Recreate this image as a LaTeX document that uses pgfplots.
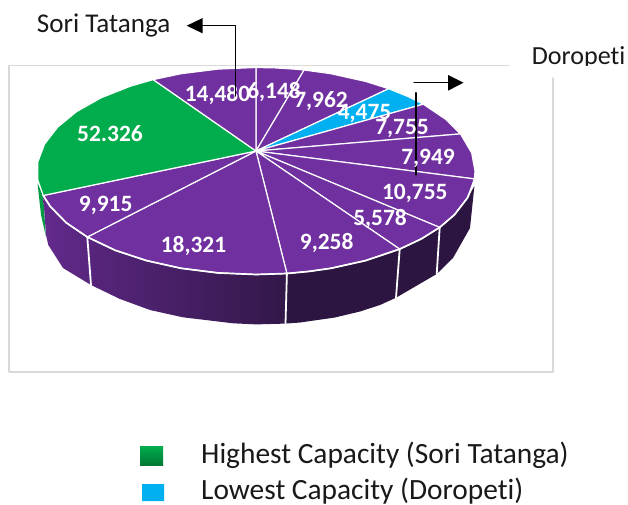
\documentclass[border=0pt]{standalone}
\usepackage{fontspec}
\setmainfont{Carlito}[Ligatures=NoCommon]
\usepackage{pgfplots}
\pgfplotsset{compat=1.18}
\definecolor{pur}{HTML}{7030A0}
\definecolor{grn}{HTML}{00AC4C}
\definecolor{blu}{HTML}{00B0F0}
\definecolor{dark}{HTML}{2D1541}
\definecolor{frame}{HTML}{D9D9D9}
\newcommand{\val}[3]{\node[anchor=base,text=white,font=\fontsize{23.5}{26}\selectfont\bfseries,inner sep=0pt] at (axis cs:#1,#2) {#3};}
\begin{document}
\begin{tikzpicture}
\path[use as bounding box] (0,0) rectangle (628bp,505bp);
\begin{axis}[at={(0,0)},anchor=south west,scale only axis,width=628bp,height=505bp,
  xmin=0,xmax=628,ymin=0,ymax=505,y dir=reverse,hide axis,clip=false,
  every axis plot/.append style={no marks,line join=round,line cap=round}]
% frame
\addplot[frame,line width=1.5pt] coordinates {(509,65.5)(9,65.5)(9,372)(553,372)(553,78)};
% side faces
\addplot[fill=grn!90!black,draw=none] coordinates {(37.5,183)(43.2,195.5)(45.8,236)(41,215)(37.5,183)};
\addplot[left color=pur!88!black,right color=pur!78!black,draw=none] coordinates {(43.2,195.5)(50.2,206.4)(66.3,222.8)(87.3,237)(91,285)(63,268)(48.3,245)(46,235)(43.2,195.5)};
\addplot[left color=pur!78!black,right color=dark!92!pur,draw=none] coordinates {(87.3,237)(115.2,250.3)(146.5,260.6)(181.1,268.3)(218,272.9)(256,274.5)(286.9,273.5)(285.5,323.6)(256,324.4)(233,323.3)(183,317.3)(150,310)(120,299)(91,285)(87.3,237)};
\addplot[fill=dark,draw=none] coordinates {(286.9,273.5)(309,271.4)(330.9,268.3)(365.5,260.6)(399.7,249.1)(396,297.7)(380,305)(360,311.5)(335,317.5)(300,322.5)(285.5,323.6)(286.9,273.5)};
\addplot[fill=dark,draw=none] coordinates {(399.7,249.1)(421.3,238.9)(439.7,227.4)(436.7,274)(396,297.7)(399.7,249.1)};
\addplot[fill=dark,draw=none] coordinates {(439.7,227.4)(454.5,214.7)(467.5,197.8)(474.4,186)(470,228)(453,258)(436.7,274)(439.7,227.4)};
% separators on the side
\addplot[white,line width=1.8pt] coordinates {(87.3,237)(91,285)};
\addplot[white,line width=1.8pt] coordinates {(286.9,273.5)(285.5,323.6)};
\addplot[white,line width=1.8pt] coordinates {(399.7,249.1)(396,297.7)};
\addplot[white,line width=1.8pt] coordinates {(439.7,227.4)(436.7,274)};
% top slices (centre, then rim)
\addplot[fill=pur,draw=white,line width=1.2pt] coordinates {(256,151)(256,67.5)(275.1,67.9)(294,69.1)(304.1,70)(256,151)};
\addplot[fill=pur,draw=white,line width=1.2pt] coordinates {(256,151)(304.1,70)(330.9,73.7)(365.5,81.4)(388.7,88.7)(256,151)};
\addplot[fill=blu,draw=white,line width=1.2pt] coordinates {(256,151)(388.7,88.7)(408.1,96.6)(423.3,104.2)(256,151)};
\addplot[fill=pur,draw=white,line width=1.2pt] coordinates {(256,151)(423.3,104.2)(445.7,119.3)(460.5,133.9)(256,151)};
\addplot[fill=pur,draw=white,line width=1.2pt] coordinates {(256,151)(460.5,133.9)(471.7,153)(475,171)(474.4,178.9)(256,151)};
\addplot[fill=pur,draw=white,line width=1.2pt] coordinates {(256,151)(474.4,178.9)(467.5,197.8)(454.5,214.7)(439.7,227.4)(256,151)};
\addplot[fill=pur,draw=white,line width=1.2pt] coordinates {(256,151)(439.7,227.4)(421.3,238.9)(399.7,249.1)(256,151)};
\addplot[fill=pur,draw=white,line width=1.2pt] coordinates {(256,151)(399.7,249.1)(365.5,260.6)(330.9,268.3)(309,271.4)(286.9,273.5)(256,151)};
\addplot[fill=pur,draw=white,line width=1.2pt] coordinates {(256,151)(286.9,273.5)(256,274.5)(218,272.9)(181.1,268.3)(146.5,260.6)(115.2,250.3)(87.3,237)(256,151)};
\addplot[fill=pur,draw=white,line width=1.2pt] coordinates {(256,151)(87.3,237)(66.3,222.8)(50.2,206.4)(43.2,195.5)(256,151)};
\addplot[fill=grn,draw=white,line width=1.2pt] coordinates {(256,151)(43.2,195.5)(37.8,180)(37.8,162)(44.5,144.2)(57.5,127.3)(76.6,111.6)(101.1,97.8)(130.4,86.2)(153.2,79.6)(256,151)};
\addplot[fill=pur,draw=white,line width=1.2pt] coordinates {(256,151)(153.2,79.6)(181.1,73.7)(218,69.1)(256,67.5)(256,151)};
% white front rim
\addplot[white,line width=1.7pt] coordinates {(43.2,195.5)(50.2,206.4)(66.3,222.8)(87.3,237)(115.2,250.3)(146.5,260.6)(181.1,268.3)(218,272.9)(256,274.5)(286.9,273.5)(309,271.4)(330.9,268.3)(365.5,260.6)(399.7,249.1)(421.3,238.9)(439.7,227.4)(454.5,214.7)(467.5,197.8)(474.4,182)};
% leader to Doropeti (under the values)
\addplot[black,line width=1.2pt] coordinates {(416,92.7)(416,175)};
% values
\val{217.5}{101.7}{14,480}
\val{274}{98.5}{6,148}
\val{321}{107}{7,962}
\val{364.5}{119}{4,475}
\val{402}{134}{7,755}
\val{428}{164}{7,949}
\val{414.8}{199.3}{10,755}
\val{380}{225}{5,578}
\val{326.7}{249}{9,258}
\val{193.5}{252.3}{18,321}
\val{105.7}{211.7}{9,915}
\val{110}{141.7}{52.326}
% leader to Sori Tatanga
\addplot[black,line width=1.2pt] coordinates {(235.7,96)(235.7,25.7)(200,25.7)};
\addplot[fill=black,draw=none] coordinates {(186.7,25.7)(202.7,18)(202.7,33.4)(186.7,25.7)};
% arrow to Doropeti
\addplot[black,line width=1.2pt] coordinates {(414,82.7)(450,82.7)};
\addplot[fill=black,draw=none] coordinates {(463.5,82.7)(448,75)(448,90.7)(463.5,82.7)};
% outer labels
\node[anchor=base west,text=black!90,font=\fontsize{27.2}{30}\selectfont,inner sep=0pt] at (axis cs:36.7,33) {Sori Tatanga};
\node[anchor=base west,text=black!90,font=\fontsize{26.2}{30}\selectfont,inner sep=0pt] at (axis cs:531.7,64) {Doropeti};
\addplot[fill=white,draw=none] coordinates {(510,65.8)(628,65.8)(628,77)(510,77)(510,65.8)};
% legend
\addplot[top color=grn,bottom color=grn!70!black,draw=none] coordinates {(140,446.7)(163,446.7)(163,465)(140,465)(140,446.7)};
\addplot[fill=blu,draw=none] coordinates {(142,484)(164,484)(164,501)(142,501)(142,484)};
\node[anchor=base west,text=black!90,font=\fontsize{29.5}{32}\selectfont,inner sep=0pt] at (axis cs:201,463.5) {Highest Capacity (Sori Tatanga)};
\node[anchor=base west,text=black!90,font=\fontsize{29.5}{32}\selectfont,inner sep=0pt] at (axis cs:201,499) {Lowest Capacity (Doropeti)};
\end{axis}
\end{tikzpicture}
\end{document}
